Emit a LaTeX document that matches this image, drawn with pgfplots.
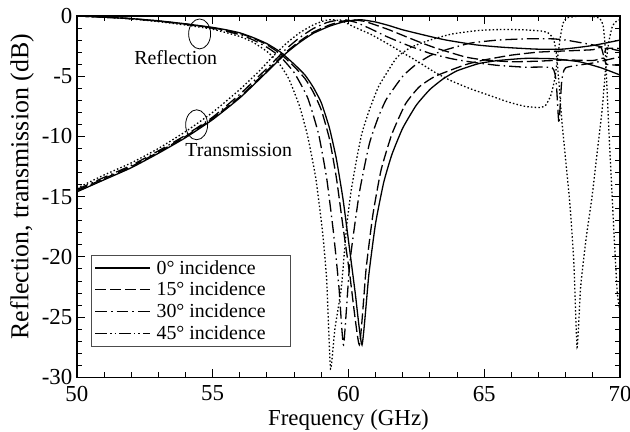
\documentclass[border=0pt]{standalone}
\usepackage{pgfplots}
\pgfplotsset{compat=1.18}
\usepackage{fontspec}
\setmainfont{Liberation Serif}

% line styles of the four angles
\tikzset{
  c0/.style={line width=1.3bp},
  c15/.style={line width=1.3bp, dash pattern=on 11bp off 4bp},
  c30/.style={line width=1.3bp, dash pattern=on 12bp off 4bp on 1.5bp off 4bp},
  c45/.style={line width=1.3bp, dash pattern=on 1.5bp off 2.2bp},
  c45leg/.style={line width=1.3bp, dash pattern=on 12bp off 3bp on 1.5bp off 3bp on 1.5bp off 3bp},
}

\begin{document}
\begin{tikzpicture}
\begin{axis}[
  scale only axis, width=544bp, height=362bp,
  xmin=50, xmax=70, ymin=-30, ymax=0,
  xtick={50,55,...,70}, ytick={-30,-25,...,0},
  minor x tick num=4, minor y tick num=4,
  tick align=inside,
  major tick length=8bp, minor tick length=5bp,
  every tick/.style={black, line width=1bp},
  axis line style={line width=1.4bp},
  /pgf/number format/assume math mode=true,
  tick label style={font=\fontsize{23}{23}\selectfont},
  xticklabel style={yshift=-5bp},
  yticklabel style={xshift=-1bp},
  xlabel={Frequency (GHz)},
  ylabel={Reflection, transmission (dB)},
  xlabel style={font=\fontsize{23}{23}\selectfont, at={(axis description cs:0.5,0)}, anchor=north, yshift=-29bp},
  ylabel style={font=\fontsize{26}{26}\selectfont, at={(axis description cs:0,0.5)}, anchor=center, yshift=55bp, xshift=10bp},
  legend style={at={(0.026,0.086)}, anchor=south west, draw=black!70, line width=0.8bp,
    font=\fontsize{20}{20}\selectfont, row sep=2.5bp, inner sep=3bp,
    nodes={inner sep=2bp},
    /tikz/every odd column/.append style={column sep=4bp}},
  legend cell align=left,
  legend image code/.code={\draw[#1] (0bp,0bp) -- (55bp,0bp);},
  clip=true,
]
\addlegendimage{c0}\addlegendentry{0° incidence\hspace*{30bp}}
\addlegendimage{c15}\addlegendentry{15° incidence}
\addlegendimage{c30}\addlegendentry{30° incidence}
\addlegendimage{c45leg}\addlegendentry{45° incidence}

% ---- 0 deg, reflection
\addplot[c0, smooth, tension=0.3, forget plot] coordinates {
(50,0) (51,-0.1) (52,-0.22) (53,-0.4) (54,-0.65) (54.5,-0.8) (55,-0.95) (55.5,-1.15)
(56,-1.4) (56.5,-1.8) (57,-2.3) (57.5,-3.0) (58,-4.0) (58.4,-4.9) (58.7,-5.9) (59,-7.2)
(59.3,-9.3) (59.55,-11.8) (59.8,-15.2) (60.05,-19.5) (60.25,-23) (60.5,-27.3) (60.75,-21.5)
(61,-17.2) (61.3,-13.8) (61.6,-11.5) (62,-9.3) (62.5,-7.4) (63,-6.1) (63.5,-5.2) (64,-4.55)
(64.8,-3.95) (65.5,-3.7) (66.5,-3.52) (67.5,-3.55) (68.5,-3.8) (69.3,-4.3) (70,-4.9)};
% ---- 0 deg, transmission
\addplot[c0, smooth, tension=0.3, forget plot] coordinates {
(50,-14.6) (51,-13.6) (52,-12.6) (53,-11.4) (54,-10.1) (55,-8.6) (56,-6.8) (56.7,-5.3)
(57.2,-4.2) (57.7,-3.1) (58.2,-2.2) (58.7,-1.45) (59.3,-0.85) (59.8,-0.5) (60.2,-0.35)
(60.5,-0.32) (61,-0.5) (61.5,-0.8) (62,-1.15) (63,-1.7) (63.6,-2.0) (64.7,-2.4) (65.7,-2.6)
(66.9,-2.75) (67.9,-2.75) (69,-2.45) (70,-2.0)};

% ---- 15 deg, reflection
\addplot[c15, smooth, tension=0.3, forget plot] coordinates {
(50,0) (51,-0.1) (52,-0.22) (53,-0.42) (54,-0.67) (55,-0.98) (56,-1.45) (56.5,-1.85)
(57,-2.4) (57.5,-3.15) (58,-4.2) (58.4,-5.2) (58.7,-6.3) (59,-7.8) (59.3,-10.2) (59.56,-13.5)
(59.8,-17.5) (60.05,-21.5) (60.4,-27.3) (60.65,-21) (60.9,-16.5) (61.2,-12.8) (61.6,-9.8)
(62.1,-7.3) (62.6,-5.9) (63.2,-5.0) (64.3,-4.05) (65,-3.65) (66,-3.25) (67,-3.0) (68,-2.9)
(69,-2.8) (69.3,-2.6) (69.4,-3.3) (69.5,-2.7) (70,-2.7)};
% ---- 15 deg, transmission
\addplot[c15, smooth, tension=0.3, forget plot] coordinates {
(50,-14.5) (51,-13.5) (52,-12.5) (53,-11.3) (54,-10.0) (55,-8.5) (56,-6.7) (56.7,-5.2)
(57.2,-4.1) (57.7,-3.0) (58.2,-2.1) (58.7,-1.35) (59.3,-0.75) (59.8,-0.42) (60.2,-0.33)
(60.6,-0.45) (61,-0.75) (61.5,-1.15) (62.1,-1.7) (62.6,-2.15) (63.2,-2.65) (64.3,-3.4)
(65,-3.65) (66,-3.8) (67,-3.75) (68,-3.65) (69,-3.7) (69.4,-3.5) (69.5,-4.0) (70,-4.1)};

% ---- 30 deg, reflection
\addplot[c30, smooth, tension=0.3, forget plot] coordinates {
(50,0) (51,-0.1) (52,-0.23) (53,-0.43) (54,-0.7) (55,-1.02) (56,-1.55) (56.5,-2.0) (57,-2.6)
(57.5,-3.4) (58,-4.7) (58.5,-6.8) (58.9,-9.8) (59.2,-13.5) (59.45,-18) (59.65,-22.5)
(59.82,-27.3) (60.05,-20.5) (60.4,-14.7) (60.77,-10.6) (61.1,-8.4) (61.4,-6.9) (62,-5.0)
(62.5,-4.0) (63,-3.3) (63.6,-2.8) (64.5,-2.25) (65.5,-2.0) (66.5,-1.9) (67.5,-1.9) (68,-2.0)
(69,-2.4) (70,-2.9)};
% ---- 30 deg, transmission
\addplot[c30, smooth, tension=0.3, forget plot] coordinates {
(50,-14.4) (51,-13.4) (52,-12.4) (53,-11.2) (54,-9.9) (55,-8.4) (56,-6.5) (56.7,-5.0)
(57.2,-3.9) (57.7,-2.75) (58.2,-1.8) (58.7,-1.05) (59.2,-0.55) (59.6,-0.35) (59.9,-0.33)
(60.3,-0.55) (60.8,-1.05) (61.4,-1.7) (62.2,-2.45) (63,-3.1) (63.8,-3.55) (64.6,-3.85)
(65.5,-4.1) (66.5,-4.25) (67.5,-4.3) (67.65,-5.5) (67.75,-8.9) (67.85,-5.5) (68,-4.3)
(69,-3.9) (70,-3.4)};

% ---- 45 deg, reflection
\addplot[c45, smooth, tension=0.3, forget plot] coordinates {
(50,0) (51,-0.1) (52,-0.25) (53,-0.47) (54,-0.75) (55,-1.1) (56,-1.7) (56.5,-2.2) (57,-2.95)
(57.4,-3.8) (57.8,-5.2) (58.2,-7.5) (58.5,-10.0) (58.8,-13.5) (59.05,-18) (59.2,-22)
(59.34,-29.3) (59.5,-26) (59.74,-22.5) (59.93,-17.5) (60.1,-14.5) (60.3,-11.9) (60.5,-9.7)
(60.77,-7.8) (61.1,-5.9) (61.5,-4.4) (61.8,-3.4) (62.3,-2.6) (63,-2.0) (63.8,-1.5) (64.8,-1.2)
(65.7,-1.12) (66.5,-1.15) (67.1,-1.25) (67.35,-1.4) (67.55,-1.9) (67.65,-3.0) (67.75,-5.5)
(67.85,-8.5) (68.0,-12.0) (68.15,-15.5) (68.3,-20.5) (68.42,-27.5) (68.55,-22.5) (68.75,-18.5)
(68.97,-15.0) (69.15,-11.5) (69.34,-7.8) (69.5,-3.6) (69.6,-2.0) (69.7,-1.0) (69.8,-0.55)
(70,-0.3)};
% ---- 45 deg, transmission
\addplot[c45, smooth, tension=0.3, forget plot] coordinates {
(50,-14.3) (51,-13.2) (52,-12.2) (53,-11.0) (54,-9.6) (55,-8.0) (56,-6.1) (56.7,-4.6)
(57.2,-3.4) (57.7,-2.3) (58.2,-1.4) (58.7,-0.75) (59.1,-0.4) (59.4,-0.3) (59.8,-0.45)
(60.15,-0.85) (60.8,-1.5) (61.4,-2.25) (62,-3.05) (62.6,-3.85) (63.2,-4.7) (63.8,-5.4)
(64.5,-6.05) (65.2,-6.6) (65.9,-7.15) (66.5,-7.5) (67,-7.6) (67.25,-7.45) (67.45,-6.6)
(67.6,-5.2) (67.7,-3.5) (67.8,-1.8) (67.9,-0.6) (68.05,-0.15) (68.5,-0.02) (69,-0.05)
(69.25,-0.2) (69.38,-0.8) (69.45,-2.5) (69.52,-6) (69.6,-10) (69.7,-14.5) (69.8,-19)
(69.9,-23) (70,-24.5)};

% annotations
\draw[line width=0.8bp] (axis cs:54.52,-1.49) ellipse [x radius=11bp, y radius=15bp];
\draw[line width=0.8bp] (axis cs:54.41,-9.03) ellipse [x radius=11bp, y radius=15bp];
\node[font=\fontsize{20}{20}\selectfont] at (axis cs:53.64,-3.48) {Reflection};
\node[font=\fontsize{20}{20}\selectfont] at (axis cs:55.96,-11.1) {Transmission};

\coordinate (sw) at (rel axis cs:0,0);
\coordinate (ne) at (rel axis cs:1,1);
\end{axis}
\pgfresetboundingbox
\useasboundingbox ([shift={(-77bp,-54bp)}]sw) rectangle ([shift={(10bp,16bp)}]ne);
\end{tikzpicture}
\end{document}
